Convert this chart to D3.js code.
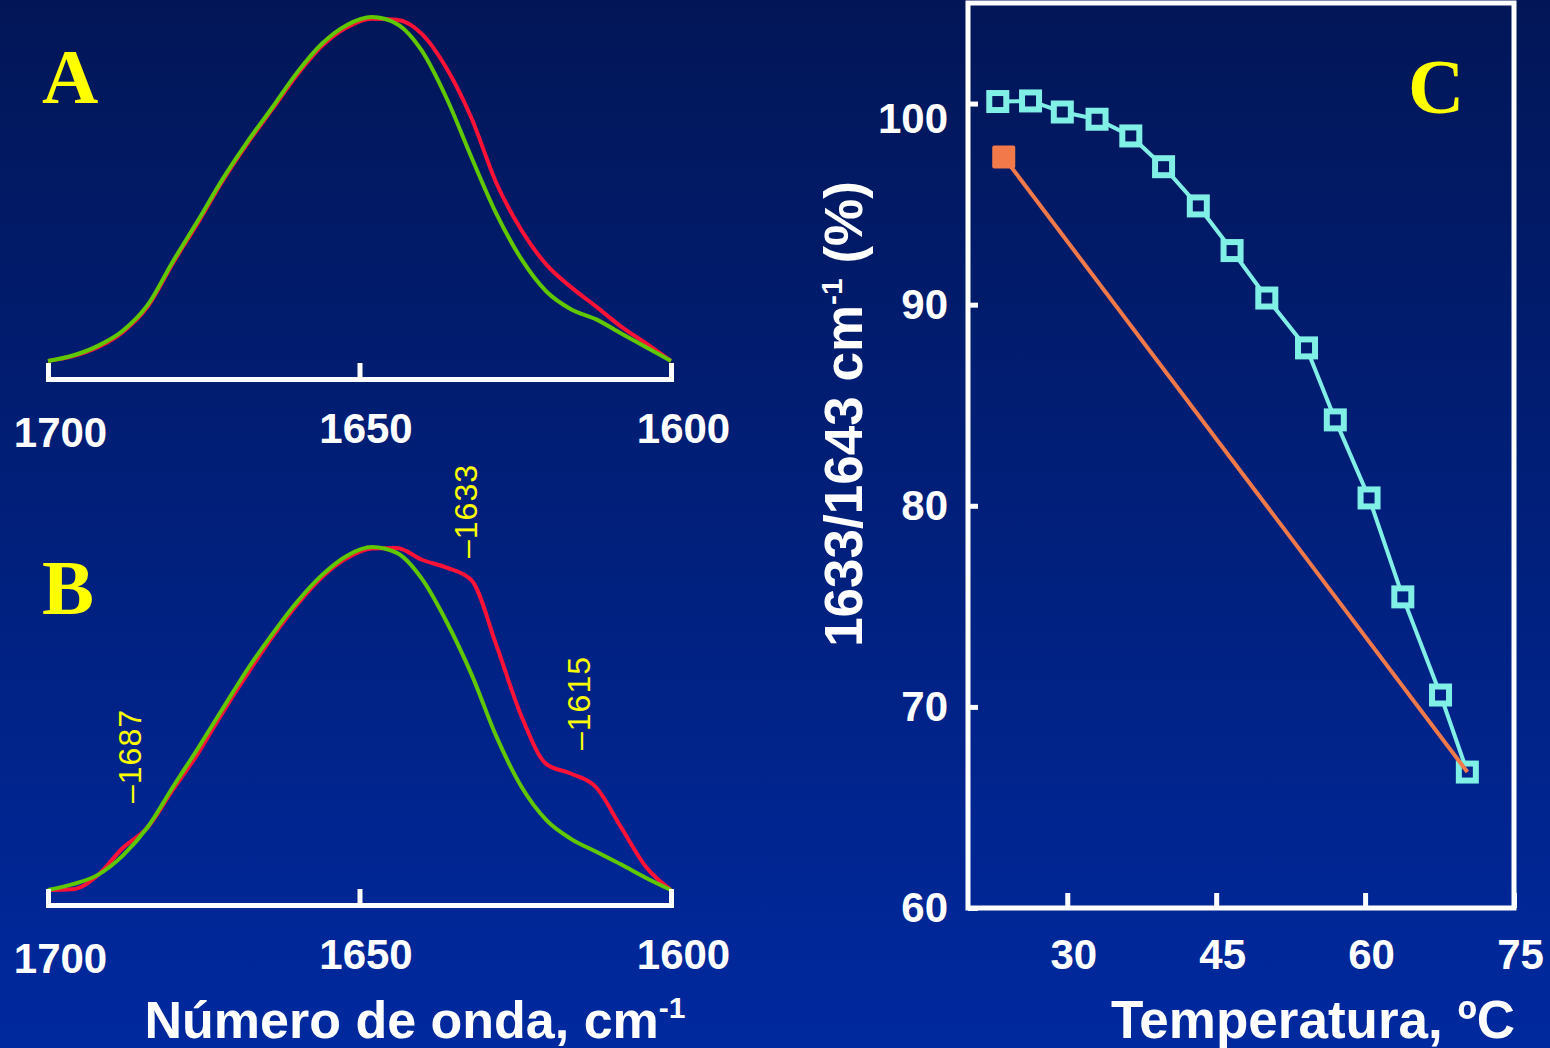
<!DOCTYPE html>
<html>
<head>
<meta charset="utf-8">
<script src="https://cdn.jsdelivr.net/npm/d3@7"></script>
<style>
  html, body { margin: 0; padding: 0; background: #011a66; }
  svg { display: block; }
  text { font-family: "Liberation Sans", Arial, sans-serif; font-weight: bold; fill: #fff; }
</style>
</head>
<body>
<svg id="chart" width="1550" height="1048"></svg>
<script>
// ---- data ----

// wavenumber grid (cm-1) shared by the four spectra
var wavenumbers = [1700, 1696, 1692, 1688, 1684, 1680, 1676, 1672, 1668, 1664, 1660, 1656, 1652,
                   1648, 1644, 1640, 1636, 1632, 1628, 1624, 1620, 1616, 1612, 1608, 1604, 1600];

// normalised absorbance, panel A
var specARed   = [0, .014, .040, .084, .158, .283, .400, .523, .632, .732, .832, .916, .970,
                  .995, .992, .951, .850, .705, .516, .380, .280, .214, .158, .100, .051, 0];
var specAGreen = [0, .016, .044, .088, .163, .288, .406, .528, .637, .737, .839, .923, .977,
                  1.0, .980, .902, .763, .591, .427, .296, .202, .150, .121, .080, .040, 0];

// normalised absorbance, panel B
var specBRed   = [0, .002, .043, .122, .182, .290, .395, .515, .628, .735, .830, .910, .965,
                  .993, .994, .960, .937, .900, .710, .505, .366, .338, .298, .182, .067, 0];
var specBGreen = [0, .017, .044, .100, .183, .298, .410, .526, .641, .744, .838, .916, .972,
                  .997, .980, .905, .779, .626, .445, .300, .203, .148, .111, .074, .035, 0];

var specTicks = [1700, 1650, 1600];
var bandLabels = [1687, 1633, 1615];

// panel C : ratio vs temperature
var temps = [23.0, 26.3, 29.5, 33.0, 36.4, 39.7, 43.2, 46.6, 50.1, 54.1, 57.0, 60.4, 63.8, 67.6, 70.3];
var ratio = [100.1, 100.13, 99.58, 99.22, 98.39, 96.86, 94.91, 92.69, 90.33, 87.85, 84.27, 80.39, 75.47, 70.59, 66.76];
var refTemps = [23.6, 70.3];
var refRatio = [97.34, 66.76];
var tempTicks = [30, 45, 60, 75];
var ratioTicks = [60, 70, 80, 90, 100];

// ---- drawing ----
var svg = d3.select("#chart");

var grad = svg.append("defs").append("linearGradient")
  .attr("id", "bg")
  .attr("gradientUnits", "userSpaceOnUse")
  .attr("x1", 0).attr("y1", 0).attr("x2", 0).attr("y2", 1048);
grad.append("stop").attr("offset", "0%").attr("stop-color", "#021657");
grad.append("stop").attr("offset", "100%").attr("stop-color", "#00299f");

svg.append("rect").attr("width", 1550).attr("height", 1048).attr("fill", "url(#bg)");

var xSpec = d3.scaleLinear().domain([1700, 1600]).range([48, 671]);

// where each rotated band label starts (screen y)
var bandLabelY = { 1687: 803, 1633: 558, 1615: 750 };

function drawSpectrum(yScale, axisY, red, green, letter, letterY, withBands) {
  var g = svg.append("g");

  var line = d3.line()
    .x(function(d, i) { return xSpec(wavenumbers[i]); })
    .y(function(d) { return yScale(d); })
    .curve(d3.curveMonotoneX);

  g.append("path").datum(red)
    .attr("d", line)
    .attr("fill", "none")
    .attr("stroke", "#ff1238")
    .attr("stroke-width", 4);

  g.append("path").datum(green)
    .attr("d", line)
    .attr("fill", "none")
    .attr("stroke", "#5fc800")
    .attr("stroke-width", 4);

  var axis = d3.axisBottom(xSpec)
    .tickValues(specTicks)
    .tickSize(-16)
    .tickSizeOuter(-16)
    .tickPadding(34)
    .tickFormat(d3.format("d"));

  var ax = g.append("g").attr("transform", "translate(0," + axisY + ")").call(axis);
  ax.select(".domain").attr("stroke", "#fff").attr("stroke-width", 5);
  ax.selectAll(".tick line").attr("stroke", "#fff").attr("stroke-width", 5);
  ax.selectAll(".tick text")
    .attr("fill", "#fff")
    .attr("dx", function(d) { return d === 1650 ? 6 : 12; })
    .attr("dy", function(d) { return d === 1700 ? "0.8em" : "0.71em"; })
    .style("font-size", "42px")
    .style("font-family", "'Liberation Sans', Arial, sans-serif")
    .style("font-weight", "bold");

  g.append("text")
    .attr("x", 42)
    .attr("y", letterY)
    .style("font-family", "'Liberation Serif', 'Times New Roman', serif")
    .style("font-size", "78px")
    .style("fill", "#ffff00")
    .text(letter);

  if (withBands) {
    bandLabels.forEach(function(wn) {
      g.append("text")
        .attr("transform", "translate(" + (xSpec(wn) + 12) + "," + bandLabelY[wn] + ") rotate(-90)")
        .style("font-weight", "normal")
        .style("font-size", "32px")
        .style("letter-spacing", "1px")
        .style("fill", "#ffff00")
        .text("\u2013" + wn);
    });
  }
}

drawSpectrum(d3.scaleLinear().domain([0, 1]).range([361, 17]), 379, specARed, specAGreen, "A", 103, false);
drawSpectrum(d3.scaleLinear().domain([0, 1]).range([890, 546]), 905, specBRed, specBGreen, "B", 614, true);

var xt = svg.append("text")
  .attr("x", 415).attr("y", 1038)
  .attr("text-anchor", "middle")
  .style("font-size", "52px")
  .text("Número de onda, cm");
xt.append("tspan").attr("dy", -20).style("font-size", "30px").text("-1");

// panel C
var xC = d3.scaleLinear().domain([20, 75]).range([968, 1514]);
var yC = d3.scaleLinear().domain([60, 105]).range([908, 3]);

var c = svg.append("g");

c.append("rect")
  .attr("x", xC(20)).attr("y", yC(105))
  .attr("width", xC(75) - xC(20))
  .attr("height", yC(60) - yC(105))
  .attr("fill", "none")
  .attr("stroke", "#fff")
  .attr("stroke-width", 5);

var xAxisC = c.append("g")
  .attr("transform", "translate(0," + yC(60) + ")")
  .call(d3.axisBottom(xC).tickValues(tempTicks).tickSize(-15).tickSizeOuter(0).tickPadding(31));
xAxisC.select(".domain").remove();

var yAxisC = c.append("g")
  .attr("transform", "translate(" + xC(20) + ",0)")
  .call(d3.axisLeft(yC).tickValues(ratioTicks).tickSize(-10).tickSizeOuter(0).tickPadding(20));
yAxisC.select(".domain").remove();

[xAxisC, yAxisC].forEach(function(ax) {
  ax.selectAll(".tick line").attr("stroke", "#fff").attr("stroke-width", 5);
  ax.selectAll(".tick text")
    .attr("fill", "#fff")
    .style("font-size", "42px")
    .style("font-family", "'Liberation Sans', Arial, sans-serif")
    .style("font-weight", "bold");
});
xAxisC.selectAll(".tick text").attr("dx", 6);
yAxisC.selectAll(".tick text").attr("dy", function(d) { return d === 100 ? "0.68em" : "0.32em"; });

var cLine = d3.line()
  .x(function(d, i) { return xC(temps[i]); })
  .y(function(d) { return yC(d); });

c.append("path").datum(ratio)
  .attr("d", cLine)
  .attr("fill", "none")
  .attr("stroke", "#80f0e6")
  .attr("stroke-width", 4);

c.selectAll(".mk").data(ratio).enter()
  .append("rect")
  .attr("class", "mk")
  .attr("x", function(d, i) { return xC(temps[i]) - 8.5; })
  .attr("y", function(d) { return yC(d) - 8.5; })
  .attr("width", 17).attr("height", 17)
  .attr("fill", "url(#bg)")
  .attr("stroke", "#80f0e6")
  .attr("stroke-width", 6);

var refLine = d3.line()
  .x(function(d, i) { return xC(refTemps[i]); })
  .y(function(d) { return yC(d); });

c.append("path").datum(refRatio)
  .attr("d", refLine)
  .attr("fill", "none")
  .attr("stroke", "#f27a4a")
  .attr("stroke-width", 4);

c.append("rect")
  .attr("x", xC(refTemps[0]) - 11.5)
  .attr("y", yC(refRatio[0]) - 11.5)
  .attr("width", 23).attr("height", 23)
  .attr("rx", 2)
  .attr("fill", "#f27a4a");

c.append("text")
  .attr("x", 1408).attr("y", 113)
  .style("font-family", "'Liberation Serif', 'Times New Roman', serif")
  .style("font-size", "78px")
  .style("fill", "#ffff00")
  .text("C");

var yt = svg.append("text")
  .attr("transform", "translate(862,414) rotate(-90)")
  .attr("text-anchor", "middle")
  .style("font-size", "53px")
  .text("1633/1643 cm");
yt.append("tspan").attr("dy", -20).style("font-size", "30px").text("-1");
yt.append("tspan").attr("dy", 20).text(" (%)");

svg.append("text")
  .attr("x", 1313).attr("y", 1038)
  .attr("text-anchor", "middle")
  .style("font-size", "53px")
  .text("Temperatura, ºC");
</script>
</body>
</html>
